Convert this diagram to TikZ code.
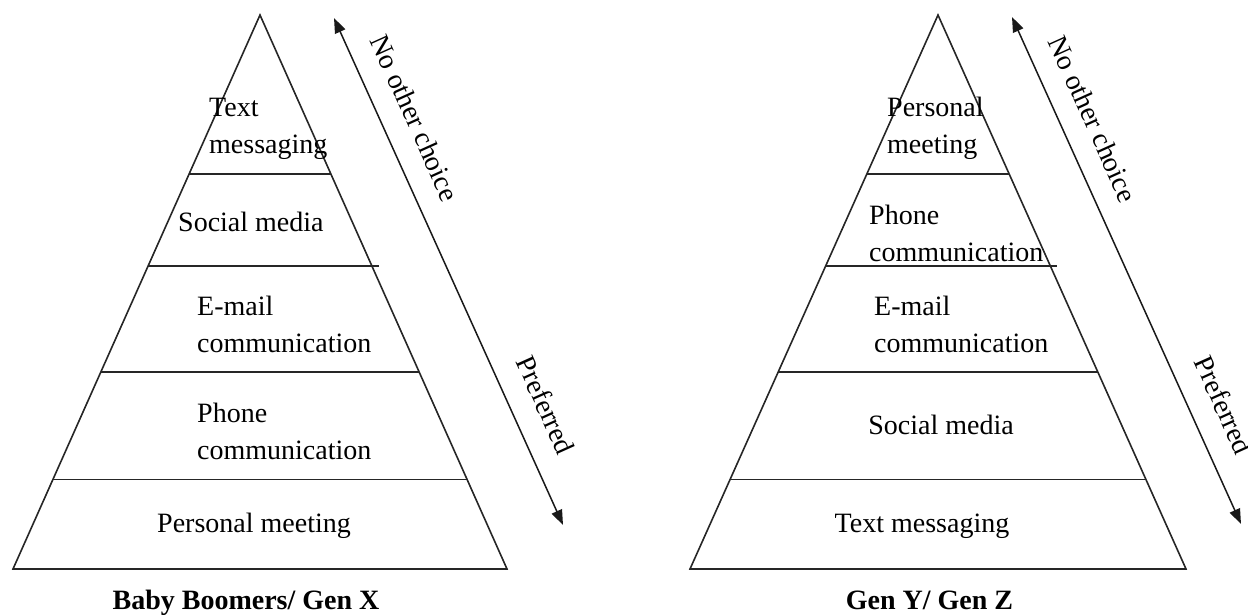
\documentclass[tikz,border=0pt]{standalone}
\usepackage{fontspec}
\setmainfont{Liberation Serif}
\usetikzlibrary{calc,arrows.meta}
\begin{document}
\begin{tikzpicture}[x=1pt,y=-1pt,
  edge/.style={line width=1.6pt, draw=black!85, line join=miter},
  divider/.style={line width=1.5pt, draw=black!85},
  band/.style={inner sep=0pt, align=left, font=\fontsize{28}{37}\selectfont},
  caption/.style={inner sep=0pt, anchor=base, font=\fontsize{28}{34}\selectfont\bfseries},
  scale arrow/.style={line width=1.5pt, draw=black!90,
    {Triangle[length=15pt,width=11pt]}-{Triangle[length=15pt,width=11pt]}},
  arrow text/.style={inner sep=0pt, rotate=-65.7, font=\fontsize{28}{34}\selectfont}]
\useasboundingbox (0,0) rectangle (1248,615);

% ---------------- left pyramid: Baby Boomers / Gen X ----------------
\coordinate (La) at (260,15);
\coordinate (Ll) at (13,569);
\coordinate (Lr) at (507,569);
\draw[edge] (La) -- (Ll) -- (Lr) -- cycle;
\draw[divider] ($(La)!0.287!(Ll)$) -- ($(La)!0.287!(Lr)$);
\draw[divider] ($(La)!0.453!(Ll)$) -- ($($(La)!0.453!(Lr)$)+(7,0)$);
\draw[divider] ($(La)!0.6444!(Ll)$) -- ($(La)!0.6444!(Lr)$);
\draw[divider] ($(La)!0.838!(Ll)$) -- ($(La)!0.838!(Lr)$);

\node[band, anchor=west] (L1) at (209,129) {Text\\messaging};
\node[band, anchor=west] (L2) at (178,222) {Social media};
\node[band, anchor=west] (L3) at (197,324) {E-mail\\communication};
\node[band, anchor=west] (L4) at (197,431) {Phone\\communication};
\node[band] (L5) at (254,526) {Personal meeting};
\node[caption] (Lcap) at (246,609) {Baby Boomers/ Gen X};

\coordinate (Lt) at (334,18);
\coordinate (Lb) at (563,525);
\draw[scale arrow] (Lt) -- (Lb);
\node[arrow text] (Lno) at (415,118) {No other choice};
\node[arrow text] (Lpref) at (546,405) {Preferred};

% ---------------- right pyramid: Gen Y / Gen Z ----------------
\coordinate (Ra) at (938,15);
\coordinate (Rl) at (690,569);
\coordinate (Rr) at (1186,569);
\draw[edge] (Ra) -- (Rl) -- (Rr) -- cycle;
\draw[divider] ($(Ra)!0.287!(Rl)$) -- ($(Ra)!0.287!(Rr)$);
\draw[divider] ($(Ra)!0.453!(Rl)$) -- ($($(Ra)!0.453!(Rr)$)+(7,0)$);
\draw[divider] ($(Ra)!0.6444!(Rl)$) -- ($(Ra)!0.6444!(Rr)$);
\draw[divider] ($(Ra)!0.838!(Rl)$) -- ($(Ra)!0.838!(Rr)$);

\node[band, anchor=west] (R1) at (887,128) {Personal\\meeting};
\node[band, anchor=west] (R2) at (869,233) {Phone\\communication};
\node[band, anchor=west] (R3) at (874,324) {E-mail\\communication};
\node[band] (R4) at (941,425) {Social media};
\node[band] (R5) at (922,526) {Text messaging};
\node[caption] (Rcap) at (929.5,609) {Gen Y/ Gen Z};

\coordinate (Rt) at (1012,17);
\coordinate (Rb) at (1241,524);
\draw[scale arrow] (Rt) -- (Rb);
\node[arrow text] (Rno) at (1093,119) {No other choice};
\node[arrow text] (Rpref) at (1224,405) {Preferred};
\end{tikzpicture}
\end{document}
